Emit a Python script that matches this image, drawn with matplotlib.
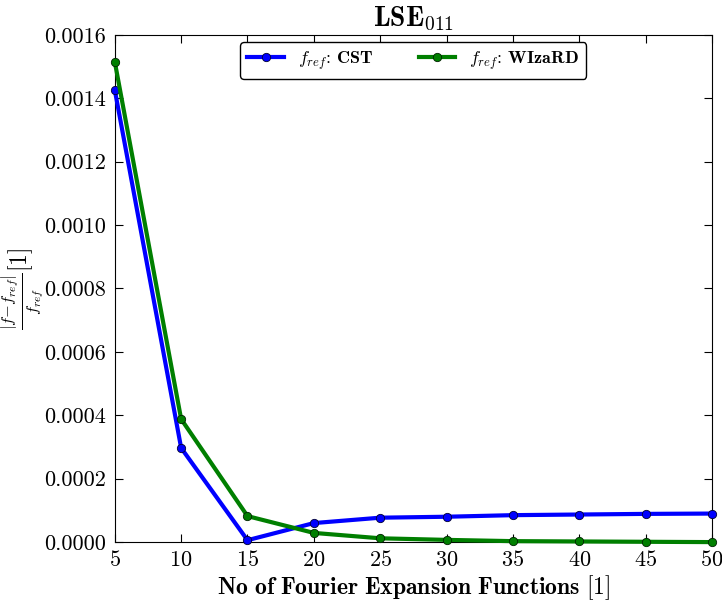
import matplotlib
matplotlib.use("Agg")
from matplotlib import pyplot as plt
from matplotlib.ticker import FormatStrFormatter, MultipleLocator

n_functions = [5, 10, 15, 20, 25, 30, 35, 40, 45, 50]
err_cst = [0.001426, 0.000297, 0.000006, 0.000060, 0.000077, 0.000080, 0.000085, 0.000087, 0.000089, 0.000090]
err_wizard = [0.001515, 0.000388, 0.000082, 0.000029, 0.000012, 0.000007, 0.000003, 0.000002, 0.000001, 0.0]


def convergence_figure():
    plt.rcParams["mathtext.fontset"] = "cm"
    plt.rcParams["font.family"] = "serif"
    plt.rcParams["font.serif"] = ["cmr10"]
    plt.rcParams["axes.formatter.use_mathtext"] = True
    plt.rcParams["axes.unicode_minus"] = False

    fig = plt.figure(figsize=(7.22, 6.01), dpi=100)
    ax = fig.add_axes([0.159, 0.098, 0.827, 0.844])

    ax.plot(n_functions, err_cst, color="#0000ff", lw=3, marker="o", ms=6, mec="#000033", mew=0.6,
            label=r"$f_{ref}$: $\mathbf{CST}$", clip_on=False, zorder=3)
    ax.plot(n_functions, err_wizard, color="#007f00", lw=3, marker="o", ms=6, mec="#002200", mew=0.6,
            label=r"$f_{ref}$: $\mathbf{WIzaRD}$", clip_on=False, zorder=3)

    ax.set_xlim(5, 50)
    ax.set_ylim(0, 0.0016)
    ax.xaxis.set_major_locator(MultipleLocator(5))
    ax.yaxis.set_major_locator(MultipleLocator(0.0002))
    ax.yaxis.set_major_formatter(FormatStrFormatter("%.4f"))
    ax.tick_params(direction="in", top=True, right=True, labelsize=16, length=6, pad=6)

    ax.set_title(r"$\mathbf{LSE}_{011}$", fontsize=20)
    ax.set_xlabel(r"$\mathbf{No\ of\ Fourier\ Expansion\ Functions}\ [1]$", fontsize=17, labelpad=2)
    ax.set_ylabel(r"$\frac{|f{-}f_{ref}|}{f_{ref}}[1]$", fontsize=17)
    ax.yaxis.set_label_coords(-0.115, 0.5)

    leg = ax.legend(loc="upper center", ncol=2, fontsize=13, fancybox=True,
                    framealpha=1, edgecolor="black", handlelength=2.0, columnspacing=2.5,
                    borderaxespad=0.4)
    leg.get_frame().set_linewidth(1)

    fig.savefig("out.png", dpi=100)


def main():
    convergence_figure()


if __name__ == "__main__":
    main()
